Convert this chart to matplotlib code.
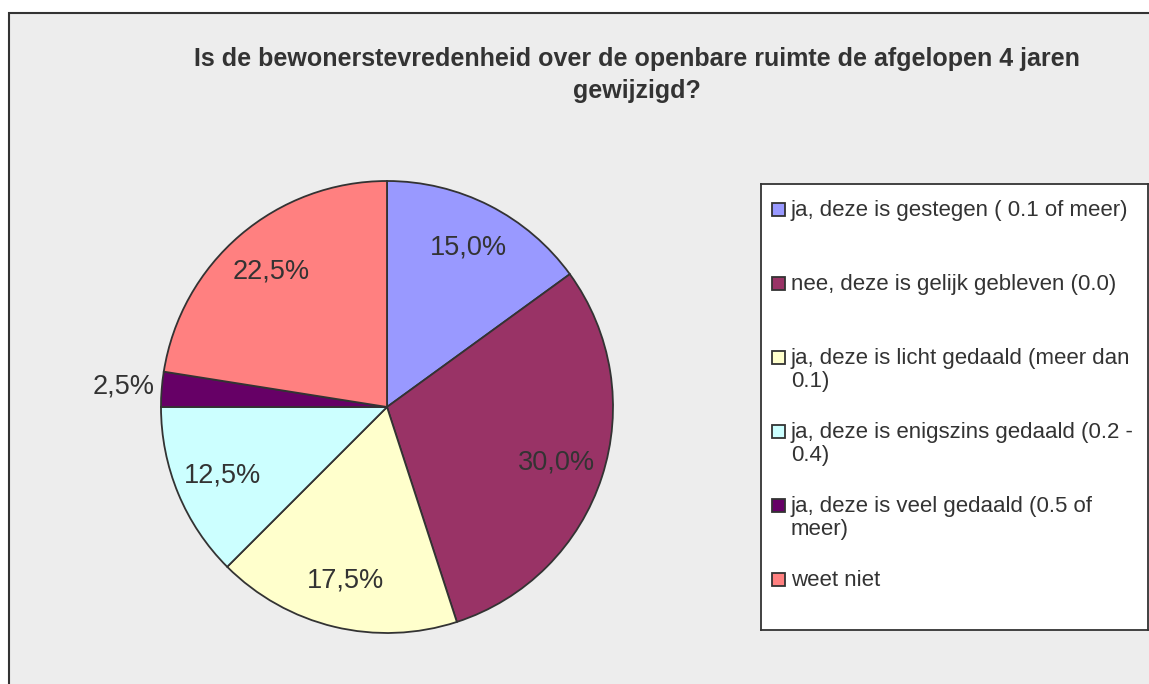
import matplotlib
matplotlib.use('Agg')
import numpy as np
import matplotlib.pyplot as plt
from matplotlib.patches import Rectangle

plt.rcParams['font.family'] = ['Liberation Sans', 'DejaVu Sans']

title = "Is de bewonerstevredenheid over de openbare ruimte de afgelopen 4 jaren\ngewijzigd?"
labels = ["ja, deze is gestegen ( 0.1 of meer)",
          "nee, deze is gelijk gebleven (0.0)",
          "ja, deze is licht gedaald (meer dan\n0.1)",
          "ja, deze is enigszins gedaald (0.2 -\n0.4)",
          "ja, deze is veel gedaald (0.5 of\nmeer)",
          "weet niet"]
values = [15.0, 30.0, 17.5, 12.5, 2.5, 22.5]
colors = ['#9999FF', '#993366', '#FFFFCC', '#CCFFFF', '#660066', '#FF8080']
txt = '#333333'

W, H = 1149, 684
fig = plt.figure(figsize=(W/100, H/100), dpi=100)
fig.patch.set_facecolor('white')

# chart area frame
fig.patches.append(Rectangle((9/W, -0.2), 1.2, (H-13)/H + 0.2, transform=fig.transFigure,
                             facecolor='#EDEDED', edgecolor='#333333', lw=1.5, zorder=-5))

fig.text(637/W, 1-75/H, title, ha='center', va='center', fontsize=18,
         fontweight='bold', color=txt, linespacing=1.38)

# pie
cx, cy, r = 387, 407, 226
ax = fig.add_axes([(cx-r)/W, (H-cy-r)/H, 2*r/W, 2*r/H])
wedges, texts, autotexts = ax.pie(values, colors=colors, startangle=90, counterclock=False,
                                  autopct=lambda p: ('%.1f%%' % p).replace('.', ','),
                                  pctdistance=0.79, radius=1,
                                  wedgeprops=dict(edgecolor='#333333', linewidth=1.3),
                                  textprops=dict(fontsize=19.5, color=txt))
for w, t, v in zip(wedges, autotexts, values):
    if v < 5:
        a = np.deg2rad((w.theta1 + w.theta2) / 2)
        t.set_position((1.17*np.cos(a), 1.17*np.sin(a)))
ax.set_xlim(-1, 1)
ax.set_ylim(-1, 1)
ax.set_aspect('equal')
ax.axis('off')

# legend box
lx0, ly0, lx1, ly1 = 761, 184, 1148, 630
lax = fig.add_axes([lx0/W, (H-ly1)/H, (lx1-lx0)/W, (ly1-ly0)/H])
lax.set_xlim(lx0, lx1)
lax.set_ylim(ly1, ly0)
lax.set_xticks([])
lax.set_yticks([])
lax.set_facecolor('white')
for s in lax.spines.values():
    s.set_color('#333333')
    s.set_linewidth(1.3)
for i, (lab, c) in enumerate(zip(labels, colors)):
    y = 209 + i*74
    lax.add_patch(Rectangle((772, y-6.5), 13, 13, facecolor=c, edgecolor='#333333', lw=1.3))
    lax.text(791, y-9, lab, ha='left', va='top', fontsize=16, color=txt, linespacing=1.12)

fig.savefig('out.png', dpi=100)
